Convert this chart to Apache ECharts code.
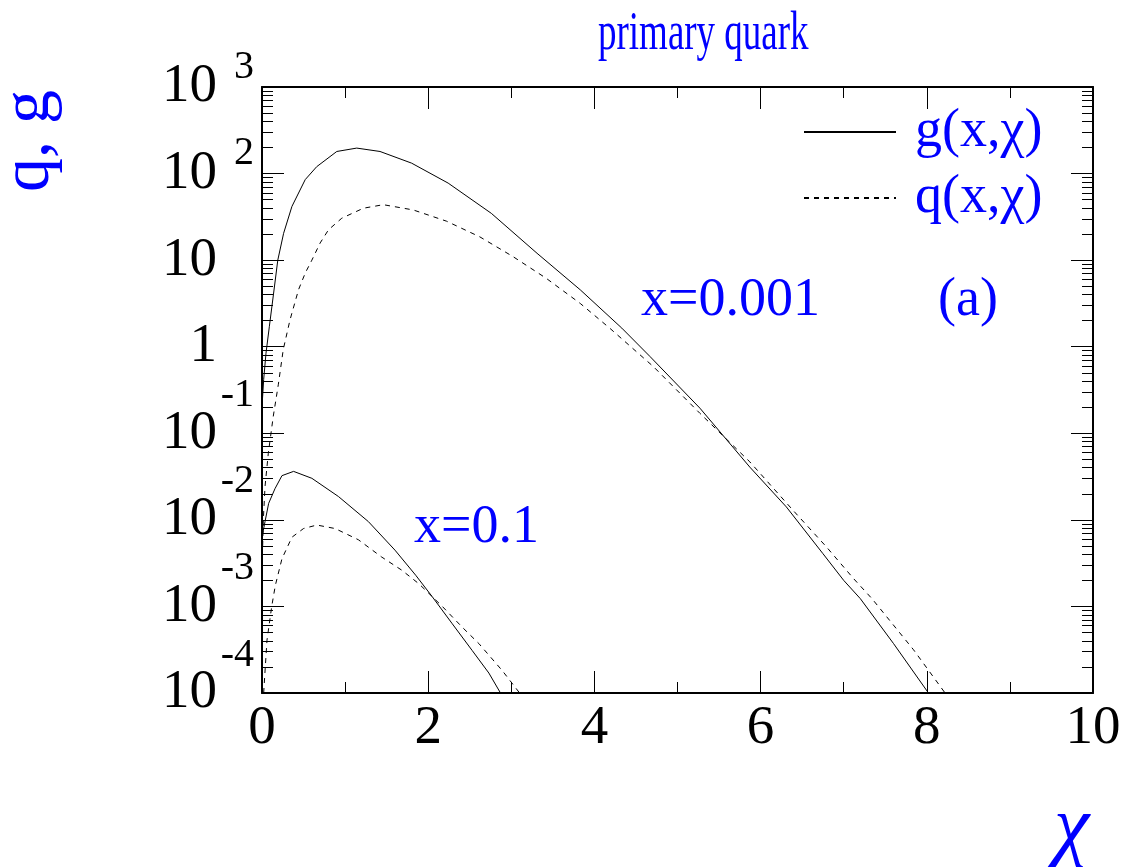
<!DOCTYPE html>
<html>
<head>
<meta charset="utf-8">
<script src="https://cdn.jsdelivr.net/npm/echarts@6/dist/echarts.min.js"></script>
<style>
html,body{margin:0;padding:0;background:#fff;}
#chart{width:1128px;height:867px;}
</style>
</head>
<body>
<div id="chart"></div>
<script>
// ---- data (chi, value) ----
const chiGUpper = [0, 0.02, 0.048, 0.088, 0.14, 0.19, 0.26, 0.36, 0.52, 0.658, 0.9, 1.14, 1.42, 1.80, 2.24, 2.76, 3.31, 3.83, 4.33, 4.67, 5.27, 5.87, 6.31, 6.75, 7.0, 7.2, 7.6, 8.02];
const gUpper = [0.204, 0.417, 0.841, 1.70, 4.17, 10, 20.4, 41.7, 85.1, 120, 180, 197, 180, 132, 77.6, 34.7, 12.0, 4.54, 1.64, 0.769, 0.195, 0.0407, 0.0141, 0.00407, 0.0020, 0.00123, 0.000372, 0.0001];

const chiQUpper = [0.008, 0.016, 0.036, 0.076, 0.136, 0.196, 0.256, 0.337, 0.44, 0.52, 0.60, 0.70, 0.80, 0.96, 1.22, 1.46, 1.82, 2.22, 2.62, 3.02, 3.42, 3.83, 4.19, 4.71, 5.27, 5.87, 6.39, 6.79, 7.12, 7.34, 7.84, 8.22];
const qUpper = [0.005, 0.01, 0.024, 0.0589, 0.158, 0.363, 0.93, 2.04, 4.57, 7.08, 10, 15.8, 22.4, 30.5, 39.8, 43.7, 38.0, 28.2, 18.6, 11.0, 6.17, 3.16, 1.62, 0.589, 0.170, 0.0468, 0.0129, 0.0049, 0.00209, 0.00123, 0.000316, 0.0001];

const chiGLower = [0, 0.036, 0.08, 0.156, 0.24, 0.38, 0.60, 0.92, 1.28, 1.60, 1.85, 2.05, 2.29, 2.53, 2.73, 2.87];
const gLower = [0.0063, 0.0095, 0.0155, 0.0229, 0.0324, 0.0363, 0.0302, 0.0186, 0.00955, 0.00447, 0.00229, 0.00129, 0.00063, 0.000309, 0.00017, 0.0001];

const chiQLower = [0.02, 0.06, 0.117, 0.16, 0.24, 0.36, 0.50, 0.66, 0.88, 1.16, 1.44, 1.68, 1.89, 2.17, 2.41, 2.61, 2.89, 3.10];
const qLower = [0.0001, 0.000407, 0.001, 0.00174, 0.00355, 0.0063, 0.00794, 0.00871, 0.00794, 0.00589, 0.00372, 0.00263, 0.00182, 0.001, 0.000575, 0.000372, 0.000182, 0.0001];

const xTickLabels = ['0', '2', '4', '6', '8', '10'];
const legendNames = ['g(x,χ)', 'q(x,χ)'];
const titleText = 'primary quark';
const yAxisTitle = 'q, g';
const xAxisTitle = 'χ';
const annotations = [
  { text: 'x=0.001' },
  { text: '(a)' },
  { text: 'x=0.1' }
];

function zip(a, b) { return a.map((v, i) => [v, b[i]]); }

const serif = "'Liberation Serif', 'DejaVu Serif', serif";
const blue = '#0000ff';

const chart = echarts.init(document.getElementById('chart'), null, { renderer: 'canvas' });

const yLabelRich = {
  bp: { fontSize: 55, fontFamily: serif, color: '#000', lineHeight: 80, verticalAlign: 'middle' },
  bn: { fontSize: 55, fontFamily: serif, color: '#000', lineHeight: 116, verticalAlign: 'middle' },
  b0: { fontSize: 55, fontFamily: serif, color: '#000', lineHeight: 55, verticalAlign: 'middle' },
  e: { fontSize: 40, fontFamily: serif, color: '#000', lineHeight: 40, verticalAlign: 'top', width: 37, align: 'right' },
  s: { fontSize: 40, fontFamily: serif, color: '#000', lineHeight: 40, verticalAlign: 'middle', width: 37 }
};

function yFmt(v) {
  const e = Math.round(Math.log10(v));
  if (e === 0) return '{b0|1}{s| }';
  if (e === 1) return '{b0|10}{s| }';
  if (e > 0) return '{bp|10}{e|' + e + '}';
  return '{bn|10}{e|' + e + '}';
}

const lineBase = { type: 'line', showSymbol: false, symbol: 'none', smooth: false, clip: true, animation: false };

chart.setOption({
  animation: false,
  backgroundColor: '#fff',
  grid: { left: 262, top: 87, right: 35, bottom: 174, containLabel: false },
  legend: {
    left: 803, top: 104, orient: 'vertical', padding: 0,
    itemWidth: 92, itemHeight: 10, itemGap: 10,
    data: legendNames,
    itemStyle: { color: 'transparent', borderColor: 'transparent', borderWidth: 0, opacity: 0 },
    textStyle: { color: blue, fontFamily: serif, fontSize: 54, lineHeight: 56, padding: [0, 0, 0, 14] },
    selectedMode: false
  },
  xAxis: [{
    type: 'value', min: 0, max: 10, interval: 2, position: 'bottom',
    axisLine: { show: true, onZero: false, lineStyle: { color: '#000', width: 2 } },
    axisTick: { show: true, inside: true, length: 22, lineStyle: { color: '#000', width: 1 } },
    minorTick: { show: true, splitNumber: 2, length: 11, lineStyle: { color: '#000', width: 1 } },
    axisLabel: { show: true, margin: 8, color: '#000', fontFamily: serif, fontSize: 55, hideOverlap: false, showMinLabel: true, showMaxLabel: true, formatter: (v) => xTickLabels[Math.round(v / 2)] },
    splitLine: { show: false }
  }, {
    type: 'value', min: 0, max: 10, interval: 2, position: 'top',
    axisLine: { show: true, onZero: false, lineStyle: { color: '#000', width: 2 } },
    axisTick: { show: true, inside: true, length: 22, lineStyle: { color: '#000', width: 1 } },
    minorTick: { show: true, splitNumber: 2, length: 11, lineStyle: { color: '#000', width: 1 } },
    axisLabel: { show: false },
    splitLine: { show: false }
  }],
  yAxis: [{
    type: 'log', logBase: 10, min: 1e-4, max: 1e3, interval: 1, position: 'left',
    axisLine: { show: true, onZero: false, lineStyle: { color: '#000', width: 2 } },
    axisTick: { show: true, inside: true, length: 22, lineStyle: { color: '#000', width: 1 } },
    minorTick: { show: true, splitNumber: 9, length: 11, lineStyle: { color: '#000', width: 1 } },
    axisLabel: { show: true, margin: 8, hideOverlap: false, showMinLabel: true, showMaxLabel: true, formatter: yFmt, rich: yLabelRich },
    splitLine: { show: false }
  }, {
    type: 'log', logBase: 10, min: 1e-4, max: 1e3, interval: 1, position: 'right',
    axisLine: { show: true, onZero: false, lineStyle: { color: '#000', width: 2 } },
    axisTick: { show: true, inside: true, length: 22, lineStyle: { color: '#000', width: 1 } },
    minorTick: { show: true, splitNumber: 9, length: 11, lineStyle: { color: '#000', width: 1 } },
    axisLabel: { show: false },
    splitLine: { show: false }
  }],
  series: [
    Object.assign({}, lineBase, { name: legendNames[0], data: zip(chiGUpper, gUpper), lineStyle: { color: '#000', width: 1, type: 'solid' }, itemStyle: { color: '#000' } }),
    Object.assign({}, lineBase, { name: legendNames[1], data: zip(chiQUpper, qUpper), lineStyle: { color: '#000', width: 1, type: [5, 5] }, itemStyle: { color: '#000' } }),
    Object.assign({}, lineBase, { name: legendNames[0], data: zip(chiGLower, gLower), lineStyle: { color: '#000', width: 1, type: 'solid' }, itemStyle: { color: '#000' } }),
    Object.assign({}, lineBase, { name: legendNames[1], data: zip(chiQLower, qLower), lineStyle: { color: '#000', width: 1, type: [5, 5] }, itemStyle: { color: '#000' } })
  ],
  graphic: [
    { type: 'text', x: 598, y: 7, scaleX: 1, scaleY: 1.48, style: { text: titleText, fill: blue, font: '37px ' + serif, verticalAlign: 'top' } },
    { type: 'text', left: 641, top: 274, style: { text: annotations[0].text, fill: blue, font: '54px ' + serif } },
    { type: 'text', left: 938, top: 274, style: { text: annotations[1].text, fill: blue, font: '54px ' + serif } },
    { type: 'text', left: 414, top: 501, style: { text: annotations[2].text, fill: blue, font: '54px ' + serif } },
    { type: 'text', left: 1054, top: 790, style: { text: xAxisTitle, fill: blue, font: 'italic 80px ' + serif } },
    { type: 'text', x: -4, y: 192, rotation: Math.PI / 2, style: { text: yAxisTitle, fill: blue, font: '68px ' + serif } }
  ]
});
</script>
</body>
</html>
